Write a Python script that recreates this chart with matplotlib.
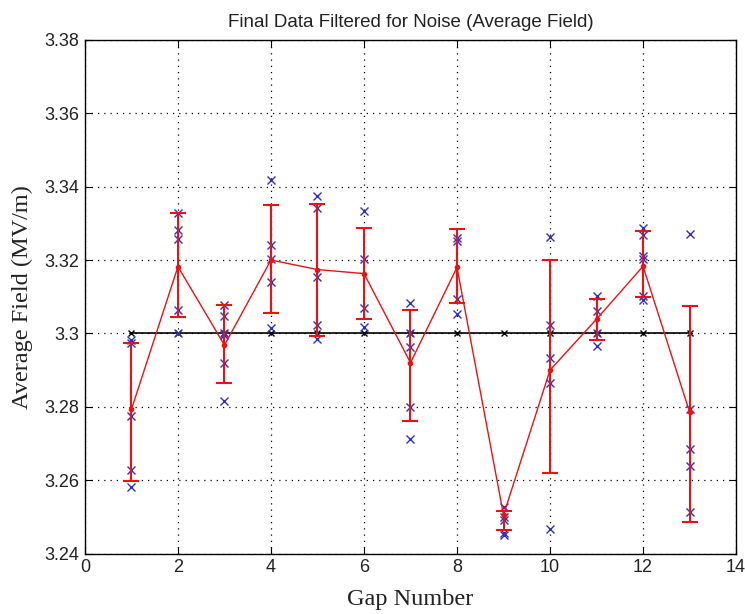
import matplotlib
matplotlib.use('Agg')
import matplotlib.pyplot as plt
import numpy as np

# ── Filtered readings per gap (MV/m) ───────────────────────────────
gaps = np.arange(1, 14)
readings = [
    [3.2982, 3.2973, 3.2775, 3.2629, 3.2582],
    [3.3329, 3.3283, 3.3256, 3.3065, 3.3000],
    [3.3077, 3.3048, 3.3000, 3.2996, 3.2918, 3.2816],
    [3.3418, 3.3241, 3.3204, 3.3141, 3.3014],
    [3.3374, 3.3341, 3.3154, 3.3023, 3.2986],
    [3.3333, 3.3202, 3.3068, 3.3018],
    [3.3084, 3.3000, 3.2962, 3.2800, 3.2711],
    [3.3259, 3.3251, 3.3093, 3.3054],
    [3.2528, 3.2500, 3.2491, 3.2455, 3.2450],
    [3.3263, 3.3023, 3.2932, 3.2864, 3.2466],
    [3.3102, 3.3061, 3.3000, 3.2965],
    [3.3286, 3.3268, 3.3211, 3.3202, 3.3102, 3.3091],
    [3.3272, 3.2793, 3.2684, 3.2638, 3.2514],
]

# average field and error-bar limits per gap
avg_field = [3.2793, 3.3182, 3.2968, 3.3200, 3.3174, 3.3163, 3.2920,
             3.3180, 3.2505, 3.2900, 3.3039, 3.3183, 3.2786]
err_low = [3.2598, 3.3044, 3.2864, 3.3056, 3.2994, 3.3039, 3.2762,
           3.3083, 3.2464, 3.2619, 3.2982, 3.3100, 3.2487]
err_high = [3.2975, 3.3329, 3.3077, 3.3351, 3.3354, 3.3288, 3.3064,
            3.3284, 3.2516, 3.3200, 3.3093, 3.3279, 3.3074]

# design field
target = [3.30] * len(gaps)

xticks = [0, 2, 4, 6, 8, 10, 12, 14]
yticks = [3.24, 3.26, 3.28, 3.30, 3.32, 3.34, 3.36, 3.38]
ytick_labels = ['3.24', '3.26', '3.28', '3.3', '3.32', '3.34', '3.36', '3.38']

# ── Plot ────────────────────────────────────────────────────────────
fig = plt.figure(figsize=(7.45, 6.14), dpi=100)
ax = fig.add_axes([0.114, 0.0985, 0.874, 0.8365])

for g, vals in zip(gaps, readings):
    ax.plot([g] * len(vals), vals, 'x', color='#3030c8', markersize=6,
            markeredgewidth=1.0, zorder=3)

ax.plot(gaps, target, 'k-x', linewidth=1.2, markersize=5, zorder=2)

avg = np.array(avg_field)
yerr = [avg - np.array(err_low), np.array(err_high) - avg]
ax.errorbar(gaps, avg, yerr=yerr, fmt='.-', color='#ee1111', linewidth=1.0,
            markersize=6, elinewidth=1.5, capsize=6, capthick=1.5, zorder=4)

ax.set_xlim(0, 14)
ax.set_ylim(3.24, 3.38)
ax.set_xticks(xticks)
ax.set_yticks(yticks)
ax.set_yticklabels(ytick_labels)
ax.tick_params(direction='in', top=True, right=True, length=5,
               labelsize=13, pad=4, labelcolor='#222222')
for lbl in ax.get_xticklabels() + ax.get_yticklabels():
    lbl.set_family('Liberation Sans')
ax.grid(True, color='black', linestyle=(0, (1, 4)), linewidth=0.9)

for s in ax.spines.values():
    s.set_linewidth(1.0)

ax.set_title('Final Data Filtered for Noise (Average Field)',
             family='Liberation Sans', fontsize=13.5, pad=9, color='#222222')
ax.set_xlabel('Gap Number', family='Liberation Serif', fontsize=17.5,
              labelpad=9, color='#222222')
ax.set_ylabel('Average Field (MV/m)', family='Liberation Serif', fontsize=17.5,
              labelpad=8, color='#222222')

plt.savefig('out.png', dpi=100)
